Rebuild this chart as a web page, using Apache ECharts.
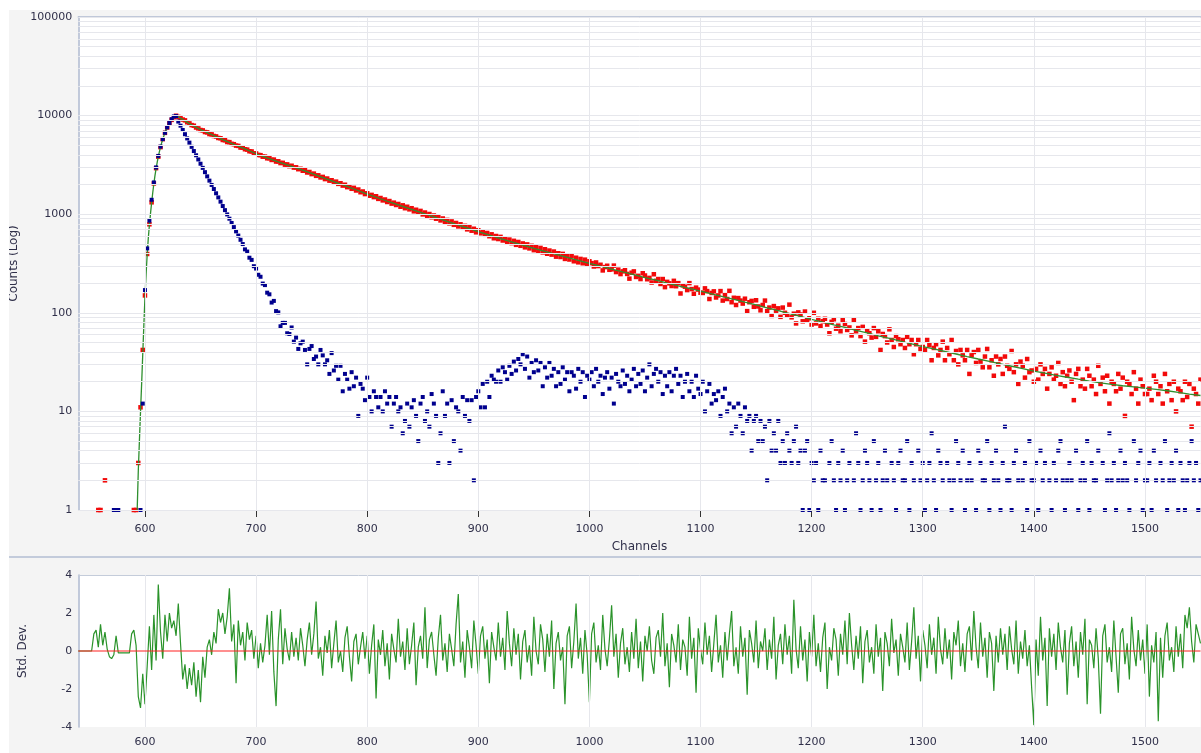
<!DOCTYPE html>
<html><head><meta charset="utf-8">
<script src="https://cdn.jsdelivr.net/npm/echarts@6/dist/echarts.min.js"></script>
<style>
html,body{margin:0;padding:0;background:#fff;width:1201px;height:753px;overflow:hidden}
#chart{position:absolute;left:9px;top:10px;width:1192px;height:743px}
#sep{position:absolute;left:9px;top:556px;width:1192px;height:2px;background:#c3cbdb}
</style></head><body>
<div id="chart"></div><div id="sep"></div>
<script>
// ---------------- data ----------------
const xTickLabels = [600,700,800,900,1000,1100,1200,1300,1400,1500];
const yDecades = [1,10,100,1000,10000,100000];
const stdZero = 0;

const redStart = 556, redStep = 2;
const redCounts = [
0,1,1,0,2,0,0,0,0,0,0,0,0,0,0,0,0,1,1,3,11,42,
150,395,790,1320,2050,2930,3830,4790,5770,6680,7570,8340,9050,9620,9970,
9700,9530,9120,8950,8560,8340,8010,7900,7570,7420,
7140,7080,6810,6760,6500,6450,6210,6150,5930,5890,
5660,5620,5400,5380,5170,5130,4960,4930,4740,4730,
4560,4520,4350,4330,4150,4130,3990,3970,3830,3840,
3690,3700,3550,3580,3420,3440,3300,3320,3180,3200,
3070,3100,2970,2990,2860,2890,2760,2790,2650,2680,
2550,2580,2450,2480,2360,2390,2270,2300,2190,2210,
2100,2140,2030,2060,1950,1990,1880,1910,1810,1850,
1740,1780,1670,1700,1600,1630,1540,1570,1490,1520,
1430,1460,1380,1410,1330,1360,1280,1310,1240,1270,
1190,1230,1150,1190,1120,1150,1070,1110,1040,1080,
995,1040,965,1005,930,970,900,935,865,905,
835,875,808,845,780,815,752,790,728,762,
702,740,680,712,655,688,
640,661,618,645,598,625,570,601,560,589,541,566,520,553,509,537,489,523,478,505,
461,494,450,478,432,462,424,455,410,441,397,428,389,418,371,402,368,396,352,380,
347,376,333,362,325,352,318,346,309,333,
319,295,324,298,307,269,291,300,273,276,301,259,274,247,263,270,248,222,255,263,
231,237,220,252,239,219,226,203,246,211,220,196,220,182,206,199,187,211,186,200,
157,190,184,170,200,174,156,180,172,160,
159,177,166,138,159,165,143,150,166,133,151,138,167,128,142,120,141,133,124,139,
104,128,132,115,134,116,106,120,133,104,113,93,117,105,111,91,113,100,95,121,
90,98,78,101,96,82,103,85,88,76,
100,78,87,73,82,87,76,62,81,86,69,74,65,84,77,67,71,59,84,65,
70,58,72,51,66,62,56,70,57,65,42,61,58,50,68,53,45,58,54,48,
53,44,57,48,53,38,48,53,43,45,
42,53,47,33,44,48,37,42,51,33,44,38,53,33,41,30,42,37,33,42,
24,37,40,31,42,32,28,36,43,28,33,23,36,30,34,24,36,29,27,41,
25,30,19,32,29,22,34,25,26,20,
27,21,30,24,27,17,24,28,21,23,31,19,25,18,23,26,20,13,24,27,
18,21,17,27,23,18,21,15,29,19,22,16,23,12,20,19,16,24,17,22,
9,20,19,15,25,17,12,21,18,15,15,17,13,23,20,15,18,12,24,16,
19,13,20,10,17,16,13,20,14,19,7,17,15,12,21
];

const blueStart = 556, blueStep = 2;
const blueCounts = [
0,0,0,0,0,0,0,0,1,1,1,0,0,0,0,0,0,0,0,0,1,12,
170,450,860,1400,2100,2980,3900,4850,5780,6700,7600,8420,9200,9800,9880,
8700,7900,7150,6480,5870,5320,4820,4370,3960,3590,
3250,2950,2670,2420,2190,1980,1800,1630,1480,1340,
1210,1100,995,900,815,740,670,607,550,498,
440,418,362,344,297,281,243,232,198,191,160,
154,127,132,104,101,73,79,79,62,61,
71,51,56,43,49,51,42,30,43,46,
34,36,30,42,37,30,33,24,39,26,
29,21,29,16,24,21,17,25,18,22,
9,19,17,13,22,14,10,16,14,11,
14,10,16,12,14,7,12,14,10,11,
6,8,12,7,11,13,9,5,12,14,
8,10,7,15,12,9,3,6,16,9,
12,3,13,5,11,10,4,14,9,13,
8,13,2,14,16,
11,19,11,20,14,23,21,20,26,20,28,25,21,29,24,32,26,34,30,38,
27,36,22,31,25,33,26,31,18,28,22,31,23,27,18,25,19,28,21,25,
16,25,23,17,27,20,25,14,23,21,
25,18,27,20,23,15,22,25,17,22,12,24,20,18,26,19,23,16,21,27,
18,24,19,26,16,22,30,18,24,27,20,25,15,23,18,25,16,23,27,19,
23,14,20,24,16,20,14,23,17,15,
20,10,16,19,12,15,13,16,9,14,17,10,12,6,11,7,12,9,6,11,
8,9,4,8,9,5,8,5,7,2,8,4,6,4,8,3,5,3,6,4,
3,5,7,3,4,1,4,5,1,3,
2,3,1,4,2,2,0,3,5,2,1,3,2,4,1,2,3,0,2,6,3,1,2,4,3,
2,1,5,2,3,1,2,4,2,0,3,2,1,3,4,2,2,5,1,3,2,0,4,2,3,
1,2,3,6,2,1,4,3,2,0,3,2,1,2,5,3,2,4,1,2,3,2,0,1,4,
3,2,2,5,1,3,2,4,2,1,3,7,2,2,1,3,4,2,0,2,3,1,5,2,2,
3,1,4,2,3,0,2,1,3,2,4,5,2,1,2,3,2,0,4,1,2,3,2,5,1,
3,2,2,4,0,3,1,2,6,2,3,1,2,4,2,3,2,1,0,5,2,3,4,1,2,
2,3,1,4,2,0,3,2,5,1,2,3,2,4,1,3,2,1,2,3,5,2,3,1,2
];

const fitRiseStart = 593;
const fitRise = [1,2.5,5,10,19,38,75,145,245,390,570,780,1020,1310,1650,2040,2460,2900,3360,3840,
4320,4800,5280,5760,6230,6690,7130,7550,7950,8330,8680,9000,9300,9600,9850,9950,9880];
const fitDecayStart = 630, fitDecayStep = 10;
const fitDecay = [9750,8300,7200,6400,5700,5100,4600,4100,3730,3400,
3110,2850,2590,2350,2140,1950,1770,1600,1460,1330,
1220,1120,1025,940,860,790,725,665,612,565,
523,485,451,420,391,365,341,318,297,278,
260,244,228,214,200,188,177,166,156,146,
137,128,120,112,105,98,92,86,80.5,75.5,
71,66.5,62.5,58.5,55,51.5,48.5,45.5,43,40.5,
38.2,36,34,32.2,30.4,28.7,27.1,25.6,24.4,23.2,
22.2,21.2,20.3,19.5,18.8,18.2,17.7,17.2,16.7,16.2,
15.6,15.0,14.5];

const residStart = 540, residStep = 2;
const residuals = [
0,0,0,0,0,0,0,0.9,1.1,0.2,1.4,0.3,1.0,0.1,-0.3,-0.4,-0.2,0.8,-0.1,-0.1,
-0.1,-0.1,-0.1,-0.1,0.9,1.1,0.3,-2.4,-3.0,-1.2,-2.8,-0.8,1.3,-1.0,1.9,-0.5,3.5,1.0,-0.4,1.9,
0.5,2.0,1.2,1.6,0.8,2.5,0.4,-1.5,-0.7,-2.0,-0.9,-1.8,-0.6,-2.4,-1.0,-2.7,-0.3,-1.4,0.2,0.6,
-0.2,1.0,0.4,2.2,1.5,2.0,0.9,1.8,3.3,0.5,1.4,-1.7,1.6,0.3,1.0,-0.5,1.5,0.6,1.1,-0.4,
0.8,-0.9,0.4,-0.6,0.3,1.9,-0.2,2.1,-1.1,-2.9,0.6,2.2,-0.7,1.2,0.1,-0.5,1.0,-0.3,0.7,
-0.5,1.2,0.3,-0.8,0.6,1.5,-0.2,0.9,2.6,-0.4,
0.2,-1.3,0.8,-0.1,1.1,-0.9,0.4,1.6,-0.6,0.0,
-1.1,0.7,1.3,-0.3,-1.6,0.5,0.9,-0.7,0.2,1.0,
-0.4,0.8,-1.2,0.3,1.4,-2.5,0.6,-0.2,1.1,-0.8,
0.4,-1.5,0.9,0.1,-0.6,1.7,-0.3,0.5,-1.0,1.2,
-0.7,0.3,1.5,-1.8,0.2,0.8,-0.4,2.3,-0.9,0.6,
1.0,-0.2,-1.3,0.7,1.9,-0.5,0.4,-1.1,0.9,0.1,
-0.8,1.4,3.0,-0.6,0.5,-1.4,1.1,0.2,-0.9,1.6,
0.3,-1.2,0.8,1.3,-0.4,0.6,-1.7,1.0,0.2,-0.5,
1.5,-0.3,0.7,-1.0,2.1,0.4,-0.8,1.2,-0.2,0.9,
-1.5,0.5,1.1,-0.6,0.3,-1.3,1.8,0.0,-0.7,1.4,
0.6,-1.1,0.9,-0.3,1.6,-2.0,0.4,1.0,-0.5,0.2,
-2.8,0.8,1.3,-0.9,0.5,2.5,-0.4,0.7,-1.2,1.1,
-0.2,-2.7,0.9,1.5,-0.6,0.3,-1.0,1.9,0.1,-0.8,
0.6,2.4,-0.3,0.9,-1.4,0.4,1.2,-0.7,0.2,-1.1,
1.0,-0.4,1.7,-0.9,0.5,-1.6,0.8,0.0,1.3,-0.5,
-1.2,0.7,1.1,-0.3,2.0,-0.8,0.4,-1.9,0.9,0.3,
-0.6,1.4,-1.0,0.6,0.2,-1.3,1.8,-0.4,0.7,-2.2,
1.2,0.1,-0.7,1.5,-0.2,0.8,-1.1,0.4,1.9,-0.6,
0.3,-1.4,1.0,-0.5,0.9,2.1,-0.8,0.2,-1.2,1.3,
-0.3,0.7,-2.3,1.1,0.4,-0.6,1.6,-0.9,0.5,0.0,
1.2,-1.0,0.6,-0.4,1.8,-1.5,0.3,0.9,-0.7,1.4,
-0.2,0.8,-1.2,2.7,0.1,-0.9,1.3,-0.5,0.6,-1.6,
1.0,-0.3,1.9,-0.8,0.4,-1.1,0.7,1.5,-2.0,0.2,
-0.5,1.2,0.6,-1.3,0.9,-0.2,1.6,-0.7,2.0,0.3,
-1.0,0.8,-0.4,1.3,-1.7,0.5,1.1,-0.6,0.2,-1.2,
1.4,-0.3,0.7,-2.1,1.0,0.4,-0.8,1.7,-0.1,0.6,
-1.3,0.9,0.2,-0.6,1.5,-1.0,0.5,2.3,-0.4,0.8,
-1.6,1.1,0.3,-0.9,1.4,-0.2,0.7,-1.2,1.8,0.1,
-0.7,1.2,-0.4,0.6,-1.5,1.0,0.3,1.6,-0.8,0.4,
-1.1,0.9,1.3,-0.5,2.1,0.2,-0.9,1.5,-0.3,0.7,
-1.4,1.0,0.4,-2.1,0.8,-0.6,1.2,-0.2,0.9,-1.0,
1.3,0.1,-0.7,1.6,-1.2,0.5,-0.4,1.1,-0.8,0.3,
-1.9,-3.9,0.6,-1.3,1.8,-0.5,0.7,-2.9,1.2,-0.3,
0.9,-1.0,1.5,0.2,-0.6,1.1,-2.3,0.4,1.3,-0.8,
0.5,-1.4,1.0,-0.2,1.7,-2.8,0.6,0.3,-0.9,1.2,
-0.4,-3.3,0.8,1.4,-0.6,0.2,-1.1,1.6,-0.3,-2.2,
0.9,1.2,-0.7,0.4,-1.5,1.8,0.1,-0.8,1.1,-0.5,
0.6,-1.2,1.4,-2.4,0.3,-0.6,1.0,-3.7,0.7,-1.4,
0.8,1.5,-0.5,0.2,-1.1,1.3,-0.3,0.9,-0.9,1.9,
1.2,2.3,0.5,-0.6,1.4,0.9,0.4
];

// ---------------- build ----------------
const X_MIN = 540, X_MAX = 1550;
const toPts = (start, step, vals) => vals.map((v, i) => [start + i * step, v]);
const redPts = toPts(redStart, redStep, redCounts).filter(p => p[1] > 0);
const bluePts = toPts(blueStart, blueStep, blueCounts).filter(p => p[1] > 0);
const fitPts = toPts(fitRiseStart, 1, fitRise).concat(toPts(fitDecayStart, fitDecayStep, fitDecay));
const residPts = toPts(residStart, residStep, residuals);
const zeroPts = [[X_MIN, stdZero], [X_MAX, stdZero]];

const logGrid = [];
yDecades.slice(0, -1).forEach(d => { for (let k = 1; k <= 9; k++) logGrid.push(k * d); });
logGrid.push(100000);

const FONT = 'DejaVu Sans';
const TXT = '#30304a';
const GRIDC = '#e6e7ec';
const AXC = '#aeb9cf';
const W = 1122.2, L = 69.3;
const xFmt = v => String(Math.round(v));

const chart = echarts.init(document.getElementById('chart'), null, {renderer: 'canvas'});
chart.setOption({
  animation: false,
  backgroundColor: '#f4f4f4',
  textStyle: {fontFamily: FONT},
  grid: [
    {left: L, top: 7, width: W, height: 493, show: true, backgroundColor: '#fff', borderWidth: 0, containLabel: false, outerBoundsMode: 'none'},
    {left: L, top: 565, width: W, height: 152, show: true, backgroundColor: '#fff', borderWidth: 0, containLabel: false, outerBoundsMode: 'none'}
  ],
  xAxis: [
    {type: 'value', gridIndex: 0, min: X_MIN, max: X_MAX, position: 'bottom',
     axisLine: {show: true, lineStyle: {color: '#e4e6ec', width: 1}},
     axisTick: {show: true, customValues: xTickLabels, length: 7, lineStyle: {color: '#333', width: 1}},
     axisLabel: {customValues: xTickLabels, margin: 14, fontSize: 11, color: TXT, fontFamily: FONT, formatter: xFmt},
     splitLine: {show: false},
     name: 'Channels', nameLocation: 'middle', nameGap: 31,
     nameTextStyle: {fontSize: 12, color: TXT, fontFamily: FONT}},
    {type: 'value', gridIndex: 0, min: X_MIN, max: X_MAX, position: 'top',
     axisLine: {show: true, lineStyle: {color: AXC, width: 1.5}},
     axisTick: {show: false}, axisLabel: {show: false}, splitLine: {show: false}},
    {type: 'value', gridIndex: 1, min: X_MIN, max: X_MAX, position: 'bottom',
     axisLine: {show: false}, axisTick: {show: false},
     axisLabel: {customValues: xTickLabels, margin: 10, fontSize: 11, color: TXT, fontFamily: FONT, formatter: xFmt},
     splitLine: {show: false}},
    {type: 'value', gridIndex: 1, min: X_MIN, max: X_MAX, position: 'top',
     axisLine: {show: true, lineStyle: {color: '#c4ccda', width: 1}},
     axisTick: {show: false}, axisLabel: {show: false}, splitLine: {show: false}}
  ],
  yAxis: [
    {type: 'log', logBase: 10, gridIndex: 0, min: 1, max: 100000,
     axisLine: {show: true, lineStyle: {color: AXC, width: 1.5}},
     axisTick: {show: false}, minorTick: {show: false}, splitLine: {show: false},
     axisLabel: {margin: 6, fontSize: 11, color: TXT, fontFamily: FONT,
       formatter: v => String(Math.round(v))},
     name: 'Counts (Log)', nameLocation: 'middle', nameGap: 51,
     nameTextStyle: {fontSize: 12, color: TXT, fontFamily: FONT}},
    {type: 'value', gridIndex: 1, min: -4, max: 4, interval: 2,
     axisLine: {show: true, lineStyle: {color: AXC, width: 1.5}},
     axisTick: {show: false}, splitLine: {show: false},
     axisLabel: {margin: 6, fontSize: 11, color: TXT, fontFamily: FONT},
     name: 'Std. Dev.', nameLocation: 'middle', nameGap: 49,
     nameTextStyle: {fontSize: 12, color: TXT, fontFamily: FONT}}
  ],
  series: [
    {type: 'line', xAxisIndex: 0, yAxisIndex: 0, data: [[X_MIN, 1]], showSymbol: false, silent: true, z: 1,
     lineStyle: {opacity: 0},
     markLine: {silent: true, symbol: ['none', 'none'], label: {show: false}, animation: false,
       lineStyle: {color: GRIDC, type: 'solid', width: 1},
       data: logGrid.map(v => ({yAxis: v})).concat(xTickLabels.map(v => ({xAxis: v})))}},
    {type: 'scatter', name: 'Decay', xAxisIndex: 0, yAxisIndex: 0, data: redPts, symbol: 'rect', symbolSize: 4.5,
     itemStyle: {color: '#f20a0a', opacity: 1, borderWidth: 0}, z: 2, silent: true},
    {type: 'line', name: 'Fit', xAxisIndex: 0, yAxisIndex: 0, data: fitPts, showSymbol: false, z: 3, silent: true,
     lineStyle: {color: '#2e8f2e', width: 1.3}},
    {type: 'scatter', name: 'IRF', xAxisIndex: 0, yAxisIndex: 0, data: bluePts, symbol: 'rect', symbolSize: 4,
     itemStyle: {color: '#00008e', opacity: 1, borderWidth: 0}, z: 4, silent: true},
    {type: 'line', xAxisIndex: 2, yAxisIndex: 1, data: [[X_MIN, 0]], showSymbol: false, silent: true, z: 1,
     lineStyle: {opacity: 0},
     markLine: {silent: true, symbol: ['none', 'none'], label: {show: false}, animation: false,
       lineStyle: {color: GRIDC, type: 'solid', width: 1},
       data: xTickLabels.map(v => ({xAxis: v}))}},
    {type: 'line', name: 'Residuals', xAxisIndex: 2, yAxisIndex: 1, data: residPts, showSymbol: false, z: 3, silent: true,
     lineStyle: {color: '#2a932a', width: 1.2}},
    {type: 'line', name: 'Zero', xAxisIndex: 2, yAxisIndex: 1, data: zeroPts, showSymbol: false, silent: true, z: 5,
     lineStyle: {color: '#ff2020', width: 1.2}}
  ]
});
</script></body></html>
